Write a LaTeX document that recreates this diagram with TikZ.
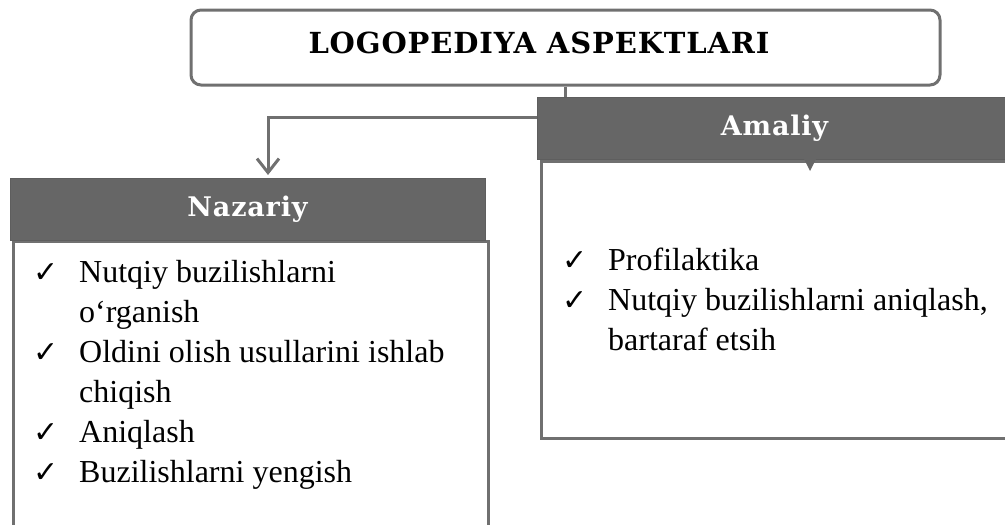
\documentclass[tikz,border=0pt]{standalone}
\usepackage{fontspec}
\setmainfont{Liberation Serif}
\newfontfamily\hdfont[LetterSpace=3]{DejaVu Serif}
\newfontfamily\chkfont{DejaVu Sans}
\usetikzlibrary{arrows.meta}
\definecolor{hdgray}{HTML}{666666}
\definecolor{lngray}{HTML}{707070}
\newcommand\chk{{\chkfont\fontsize{30}{40}\selectfont ✓}}
\tikzset{
  titlebox/.style={draw=lngray, line width=3pt, rounded corners=10pt, minimum width=749pt, minimum height=75pt, inner sep=0pt},
  titletext/.style={inner sep=0pt, font=\hdfont\bfseries\fontsize{29}{32}\selectfont},
  hdbox/.style={fill=hdgray, draw=hdgray!92!black, line width=1pt, minimum width=475pt, minimum height=62pt, inner sep=0pt, text=white, font=\hdfont\bfseries\fontsize{27}{30}\selectfont},
  bodybox/.style={draw=lngray, line width=3pt, inner sep=0pt},
  conn/.style={draw=lngray, line width=3pt},
  listtxt/.style={inner sep=0pt, font=\fontsize{32}{40}\selectfont, align=left}
}
\begin{document}
\begin{tikzpicture}[x=1pt,y=-1pt]
\useasboundingbox (0,0) rectangle (1005,525);
\clip (0,0) rectangle (1005,525);
% body boxes
\node[bodybox, minimum width=475pt, minimum height=320pt, anchor=north west] (nazb) at (11.5,240) {};
\node[bodybox, minimum width=480pt, minimum height=277pt, anchor=north west] (amb) at (540,160) {};
% title
\node[titlebox] (title) at (565.5,47.5) {};
\node[titletext, anchor=base] (titlet) at (539,53) {LOGOPEDIYA ASPEKTLARI};
% headers
\node[hdbox] (nazh) at (247.5,209) {Nazariy};
\coordinate (j) at (565,117);
\coordinate (k) at (268,175);
\draw[conn, -{Straight Barb[length=14pt,width=22pt,line width=3pt]}] (title.south -| j) -- (j) -| (k);
\node[hdbox] (amh) at (774.5,128.5) {Amaliy};
\fill[hdgray] (804,159) -- (816,159) -- (810,171) -- cycle;
% lists
\node[listtxt, anchor=base west] (nazl) at (33,282) {\begin{tabular}[t]{@{}p{46pt}@{}l@{}}
\chk & Nutqiy buzilishlarni\\
 & o‘rganish\\
\chk & Oldini olish usullarini ishlab\\
 & chiqish\\
\chk & Aniqlash\\
\chk & Buzilishlarni yengish
\end{tabular}};
\node[listtxt, anchor=base west] (aml) at (562,270) {\begin{tabular}[t]{@{}p{46pt}@{}l@{}}
\chk & Profilaktika\\
\chk & Nutqiy buzilishlarni aniqlash,\\
 & bartaraf etsih
\end{tabular}};
\end{tikzpicture}
\end{document}
